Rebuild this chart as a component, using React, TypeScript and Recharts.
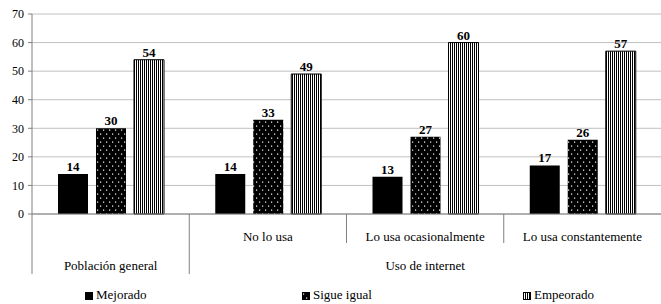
import { Bar, BarChart, CartesianGrid, LabelList, Legend, XAxis, YAxis } from "recharts";

const categories = ["Población general", "No lo usa", "Lo usa ocasionalmente", "Lo usa constantemente"];
const subLabels = ["", "No lo usa", "Lo usa ocasionalmente", "Lo usa constantemente"];
const groupNames = ["Población general", "Uso de internet"];
const groupSpans = [1, 3];
const mejorado = [14, 14, 13, 17];
const sigueIgual = [30, 33, 27, 26];
const empeorado = [54, 49, 60, 57];
const yTicks = [0, 10, 20, 30, 40, 50, 60, 70];

const data = categories.map((name, i) => ({
  name,
  mejorado: mejorado[i],
  sigue: sigueIgual[i],
  empeorado: empeorado[i],
}));

const FONT = "'Liberation Serif', serif";
const AXIS = "#808080";

function SubTick(props: any) {
  const { x, y, index, payload } = props;
  const left = x - payload.offset;
  return (
    <g>
      {index > 1 && <line x1={left} x2={left} y1={y} y2={y + 29} stroke={AXIS} />}
      <text x={x} y={y + 27} textAnchor="middle" fontFamily={FONT} fontSize={13} fill="#000">
        {subLabels[index]}
      </text>
    </g>
  );
}

function GroupTick(props: any) {
  const { x, y, index, payload } = props;
  // draw the group's left border and its centred label where a group starts
  let start = 0;
  for (let g = 0; g < groupNames.length; g++) {
    if (start === index) {
      const left = x - payload.offset;
      const center = left + payload.offset * groupSpans[g];
      return (
        <g>
          <line x1={left} x2={left} y1={y - 42} y2={y + 18} stroke={AXIS} />
          <text x={center} y={y + 14} textAnchor="middle" fontFamily={FONT} fontSize={13} fill="#000">
            {groupNames[g]}
          </text>
        </g>
      );
    }
    start += groupSpans[g];
  }
  return <g />;
}

function Swatch({ fill, stroke }: { fill: string; stroke?: string }) {
  return (
    <svg width={8} height={8} style={{ display: "inline-block", marginRight: 3, verticalAlign: "-0.5px" }}>
      <rect x={0.5} y={0.5} width={7} height={7} fill={fill} stroke={stroke ?? fill} />
    </svg>
  );
}

const legendItems = [
  { label: "Mejorado", fill: "#000", left: 85 },
  { label: "Sigue igual", fill: "url(#dots)", left: 302, stroke: "#000" },
  { label: "Empeorado", fill: "url(#stripes)", left: 523, stroke: "#000" },
];

function LegendContent() {
  return (
    <div style={{ position: "relative", width: 661, height: 18, fontFamily: FONT, fontSize: 13 }}>
      {legendItems.map((it) => (
        <span key={it.label} style={{ position: "absolute", left: it.left, top: 1, whiteSpace: "nowrap" }}>
          <Swatch fill={it.fill} stroke={it.stroke} />
          {it.label}
        </span>
      ))}
    </div>
  );
}

export default function App() {
  return (
    <div style={{ position: "absolute", left: 0, top: 0, width: 661, height: 304, background: "#fff" }}>
      <svg width={0} height={0} style={{ position: "absolute" }}>
        <defs>
          <pattern id="dots" width={6} height={8} patternUnits="userSpaceOnUse">
            <rect width={6} height={8} fill="#000" />
            <rect x={1} y={1.5} width={1.2} height={1.2} fill="#fff" />
            <rect x={4} y={5.5} width={1.2} height={1.2} fill="#fff" />
          </pattern>
          <pattern id="stripes" width={2} height={4} patternUnits="userSpaceOnUse">
            <rect width={2} height={4} fill="#fff" />
            <rect width={1} height={4} fill="#000" />
          </pattern>
        </defs>
      </svg>
      <BarChart
        width={661}
        height={304}
        data={data}
        margin={{ top: 14, right: 0, left: 0, bottom: 0 }}
        barSize={30}
        barGap={8}
      >
        <CartesianGrid vertical={false} stroke="#c0c0c0" />
        <XAxis
          dataKey="name"
          height={42}
          axisLine={{ stroke: AXIS }}
          tickLine={false}
          tickSize={0}
          tickMargin={0}
          tick={<SubTick />}
          interval={0}
        />
        <XAxis
          xAxisId="grp"
          dataKey="name"
          height={30}
          axisLine={false}
          tickLine={false}
          tickSize={0}
          tickMargin={0}
          tick={<GroupTick />}
          interval={0}
        />
        <YAxis
          domain={[0, 70]}
          ticks={yTicks}
          width={32}
          axisLine={{ stroke: AXIS }}
          tickLine={{ stroke: AXIS }}
          tickSize={4}
          tickMargin={4}
          tick={{ fontFamily: FONT, fontSize: 12, fill: "#000" }}
          interval={0}
        />
        <Legend verticalAlign="bottom" height={18} content={<LegendContent />} wrapperStyle={{ left: 0, width: 661 }} />
        <Bar dataKey="mejorado" name="Mejorado" fill="#000" isAnimationActive={false}>
          <LabelList dataKey="mejorado" position="top" offset={3} fill="#000" fontFamily={FONT} fontSize={13} fontWeight="bold" />
        </Bar>
        <Bar dataKey="sigue" name="Sigue igual" fill="url(#dots)" isAnimationActive={false}>
          <LabelList dataKey="sigue" position="top" offset={3} fill="#000" fontFamily={FONT} fontSize={13} fontWeight="bold" />
        </Bar>
        <Bar dataKey="empeorado" name="Empeorado" fill="url(#stripes)" stroke="#000" strokeWidth={1} isAnimationActive={false}>
          <LabelList dataKey="empeorado" position="top" offset={3} fill="#000" fontFamily={FONT} fontSize={13} fontWeight="bold" />
        </Bar>
      </BarChart>
    </div>
  );
}
